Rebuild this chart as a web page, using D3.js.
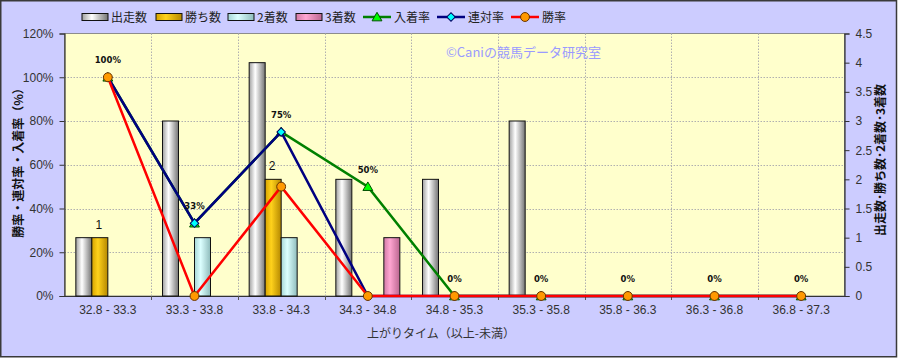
<!DOCTYPE html>
<html>
<head>
<meta charset="utf-8">
<script src="https://cdn.jsdelivr.net/npm/d3@7"></script>
<style>
  html, body { margin: 0; padding: 0; background: #fff; }
  svg { display: block; }
  .num { font-family: "Liberation Sans Narrow", "Liberation Sans", Arial, sans-serif; font-size: 12px; fill: #333; }
  .jp { font-family: "Noto Sans CJK JP", sans-serif; font-size: 12px; fill: #222; }
</style>
</head>
<body>
<div id="chart"></div>
<script>
const categories = ["32.8 - 33.3", "33.3 - 33.8", "33.8 - 34.3", "34.3 - 34.8", "34.8 - 35.3",
  "35.3 - 35.8", "35.8 - 36.3", "36.3 - 36.8", "36.8 - 37.3"]
const runners = [1, 3, 4, 2, 2, 3, 0, 0, 0]
const wins = [1, 0, 2, 0, 0, 0, 0, 0, 0]
const seconds = [0, 1, 1, 0, 0, 0, 0, 0, 0]
const thirds = [0, 0, 0, 1, 0, 0, 0, 0, 0]
const placeRate = [100, 33.3, 75, 50, 0, 0, 0, 0, 0]
const quinellaRate = [100, 33.3, 75, 0, 0, 0, 0, 0, 0]
const winRate = [100, 0, 50, 0, 0, 0, 0, 0, 0]
const leftTicks = [0, 20, 40, 60, 80, 100, 120]
const rightTicks = [0, 0.5, 1, 1.5, 2, 2.5, 3, 3.5, 4, 4.5]

const W = 898
const H = 358
const plot = { left: 64.5, right: 844.5, top: 33.5, bottom: 296 }

const barSeries = [
  { name: "出走数", values: runners, id: "gWhite", stops: ["#a0a0a0", "#ffffff", "#747474"] },
  { name: "勝ち数", values: wins, id: "gGold", stops: ["#d6a300", "#ffd21c", "#b58800"] },
  { name: "2着数", values: seconds, id: "gCyan", stops: ["#a6d6d6", "#dcffff", "#8fbcbc"] },
  { name: "3着数", values: thirds, id: "gPink", stops: ["#d27aa6", "#ffa6d2", "#bb6690"] },
]
const lineSeries = [
  { name: "入着率", values: placeRate, color: "#008000", fill: "#00ff00", stroke: "#005000", shape: "triangle" },
  { name: "連対率", values: quinellaRate, color: "#000080", fill: "#00ffff", stroke: "#000060", shape: "diamond" },
  { name: "勝率", values: winRate, color: "#ff0000", fill: "#ff9900", stroke: "#663300", shape: "circle" },
]

const svg = d3.select("#chart").append("svg").attr("width", W).attr("height", H)

const defs = svg.append("defs")
barSeries.forEach(s => {
  const g = defs.append("linearGradient").attr("id", s.id).attr("x1", "0").attr("x2", "1").attr("y1", "0").attr("y2", "0")
  g.append("stop").attr("offset", "0%").attr("stop-color", s.stops[0])
  g.append("stop").attr("offset", "38%").attr("stop-color", s.stops[1])
  g.append("stop").attr("offset", "100%").attr("stop-color", s.stops[2])
})

// background + frame
svg.append("rect").attr("x", 0.75).attr("y", 0.75).attr("width", W - 2.25).attr("height", H - 2)
  .attr("fill", "#ccccff").attr("stroke", "#3a3a3a").attr("stroke-width", 1.5)

svg.append("rect").attr("x", plot.left).attr("y", plot.top)
  .attr("width", plot.right - plot.left).attr("height", plot.bottom - plot.top)
  .attr("fill", "#ffffcc").attr("stroke", "#8c8c8c").attr("stroke-width", 1)

const x0 = d3.scaleBand().domain(categories).range([plot.left, plot.right]).padding(0)
const barW = 16
const x1 = d3.scaleBand().domain(barSeries.map(s => s.name))
  .range([0, x0.bandwidth()]).paddingInner(0)
  .paddingOuter((x0.bandwidth() / barW - barSeries.length) / 2)
const yL = d3.scaleLinear().domain([0, 120]).range([plot.bottom, plot.top])
const yR = d3.scaleLinear().domain([0, 4.5]).range([plot.bottom, plot.top])
const cx = c => x0(c) + x0.bandwidth() / 2

// gridlines
svg.append("g").selectAll("line").data(leftTicks.filter(t => t > 0 && t < 120)).enter().append("line")
  .attr("x1", plot.left).attr("x2", plot.right)
  .attr("y1", d => Math.round(yL(d)) + 0.5).attr("y2", d => Math.round(yL(d)) + 0.5)
  .attr("stroke", "#b0b0b0").attr("stroke-dasharray", "1.5,1.5")
svg.append("g").selectAll("line").data(categories.slice(1)).enter().append("line")
  .attr("x1", d => Math.round(x0(d)) + 0.5).attr("x2", d => Math.round(x0(d)) + 0.5)
  .attr("y1", plot.top).attr("y2", plot.bottom)
  .attr("stroke", "#b0b0b0").attr("stroke-dasharray", "1.5,1.5")

// watermark
svg.append("text").attr("class", "jp").attr("x", 446).attr("y", 57)
  .style("font-size", "13px").style("fill", "#9a9aff").text("©Caniの競馬データ研究室")

// axes
const leftAxis = svg.append("g").attr("transform", `translate(${plot.left},0)`)
  .call(d3.axisLeft(yL).tickValues(leftTicks).tickFormat(d => d + "%").tickSize(5).tickPadding(6))
const rightAxis = svg.append("g").attr("transform", `translate(${plot.right},0)`)
  .call(d3.axisRight(yR).tickValues(rightTicks).tickFormat(d => d).tickSize(5).tickPadding(6))
const bottomAxis = svg.append("g").attr("transform", `translate(0,${plot.bottom})`)
  .call(d3.axisBottom(x0).tickSize(0).tickPadding(12))
;[leftAxis, rightAxis, bottomAxis].forEach(a => {
  a.select(".domain").attr("stroke", "#333").attr("stroke-width", 1.2)
  a.selectAll(".tick line").attr("stroke", "#333")
  a.selectAll("text").attr("class", "num").attr("font-family", null).attr("font-size", null).attr("fill", null)
})
bottomAxis.selectAll(".tick text").attr("dy", "0.5em")
svg.append("g").selectAll("line").data(categories.slice(1)).enter().append("line")
  .attr("x1", d => Math.round(x0(d)) + 0.5).attr("x2", d => Math.round(x0(d)) + 0.5)
  .attr("y1", plot.bottom).attr("y2", plot.bottom + 4).attr("stroke", "#555")

// bars
barSeries.forEach(s => {
  svg.append("g").selectAll("rect")
    .data(categories.map((c, i) => ({ c, v: s.values[i] })).filter(d => d.v > 0))
    .enter().append("rect")
    .attr("x", d => x0(d.c) + x1(s.name))
    .attr("y", d => yR(d.v))
    .attr("width", x1.bandwidth())
    .attr("height", d => yR(0) - yR(d.v))
    .attr("fill", `url(#${s.id})`)
    .attr("stroke", "#111").attr("stroke-width", 1)
})

// labels on wins bars
svg.append("g").selectAll("text")
  .data(categories.map((c, i) => ({ c, v: wins[i] })).filter(d => d.v > 0))
  .enter().append("text").attr("class", "num")
  .attr("x", d => x0(d.c) + x1("勝ち数") + x1.bandwidth() / 2 - 1)
  .attr("y", d => yR(d.v) - 9)
  .attr("text-anchor", "middle").style("fill", "#111")
  .text(d => d.v)

const markerPath = (shape) => {
  if (shape === "triangle") return d3.symbol(d3.symbolTriangle, 42)()
  if (shape === "diamond") return d3.symbol(d3.symbolSquare, 36)()
  return d3.symbol(d3.symbolCircle, 62)()
}
const markerTransform = (shape, x, y) =>
  `translate(${x},${y + (shape === "triangle" ? 1 : 0)})` + (shape === "diamond" ? " rotate(45)" : "")

// lines
lineSeries.forEach(s => {
  const pts = categories.map((c, i) => ({ c, v: s.values[i] }))
  svg.append("path").datum(pts)
    .attr("d", d3.line().x(d => cx(d.c)).y(d => yL(d.v)))
    .attr("fill", "none").attr("stroke", s.color).attr("stroke-width", 2.5)
  svg.append("g").selectAll("path").data(pts).enter().append("path")
    .attr("d", markerPath(s.shape))
    .attr("transform", d => markerTransform(s.shape, cx(d.c), yL(d.v)))
    .attr("fill", s.fill).attr("stroke", s.stroke).attr("stroke-width", 1)
})

// rate labels
svg.append("g").selectAll("text")
  .data(categories.map((c, i) => ({ c, v: placeRate[i] })))
  .enter().append("text")
  .attr("x", d => cx(d.c)).attr("y", d => yL(d.v) - 14)
  .attr("text-anchor", "middle")
  .style("font-family", "'DejaVu Sans', sans-serif").style("font-size", "8.5px").style("font-weight", "bold").style("fill", "#111")
  .text(d => Math.round(d.v) + "%")

// axis titles
svg.append("text").attr("class", "jp")
  .attr("transform", `translate(23,160) rotate(-90)`).attr("text-anchor", "middle")
  .style("fill", "#111").style("font-weight", "bold").text("勝率・連対率・入着率（%）")
svg.append("text").attr("class", "jp")
  .attr("transform", `translate(885,160) rotate(-90)`).attr("text-anchor", "middle")
  .style("fill", "#111").style("font-weight", "bold").text("出走数･勝ち数･2着数･3着数")
svg.append("text").attr("class", "jp")
  .attr("x", 441).attr("y", 338).attr("text-anchor", "middle")
  .style("fill", "#333").text("上がりタイム（以上-未満）")

// legend
const legend = svg.append("g").attr("transform", "translate(0,17)")
const legendX = [82, 156, 228, 296]
barSeries.forEach((s, i) => {
  legend.append("rect").attr("x", legendX[i]).attr("y", -3.5).attr("width", 26).attr("height", 7)
    .attr("fill", `url(#${s.id})`).attr("stroke", "#111")
  legend.append("text").attr("class", "jp").attr("x", legendX[i] + 29).attr("y", 4.5).text(s.name)
})
const legendLX = [363, 437, 511]
lineSeries.forEach((s, i) => {
  legend.append("line").attr("x1", legendLX[i]).attr("x2", legendLX[i] + 28).attr("y1", 0).attr("y2", 0)
    .attr("stroke", s.color).attr("stroke-width", 2.5)
  legend.append("path").attr("d", markerPath(s.shape))
    .attr("transform", markerTransform(s.shape, legendLX[i] + 14, 0))
    .attr("fill", s.fill).attr("stroke", s.stroke)
  legend.append("text").attr("class", "jp").attr("x", legendLX[i] + 31).attr("y", 4.5).text(s.name)
})
</script>
</body>
</html>
